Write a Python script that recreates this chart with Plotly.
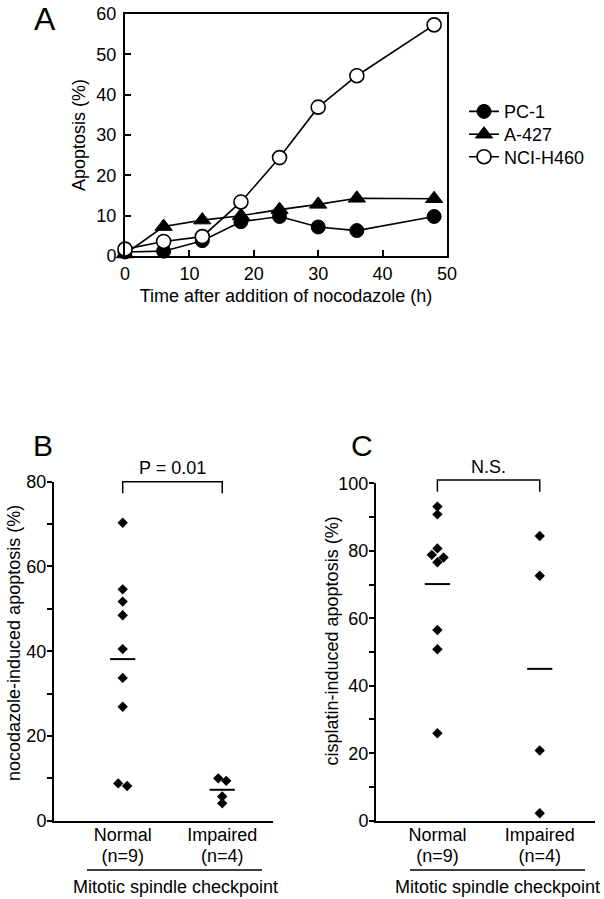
import numpy as np
import plotly.graph_objects as go

# ---------------- Panel A data ----------------
time_h = [0, 6, 12, 18, 24, 30, 36, 48]
pc1 = [1.0, 1.2, 3.8, 8.5, 9.8, 7.2, 6.3, 9.8]
a427 = [0.5, 7.3, 8.9, 10.0, 11.5, 12.8, 14.3, 14.2]
h460 = [1.7, 3.6, 4.8, 13.4, 24.4, 36.9, 44.7, 57.3]
series_names = ["PC-1", "A-427", "NCI-H460"]
a_xticks = [0, 10, 20, 30, 40, 50]
a_yticks = [0, 10, 20, 30, 40, 50, 60]

# ---------------- Panel B / C data ----------------
groups = ["Normal", "Impaired"]
group_n = ["(n=9)", "(n=4)"]
b_normal = [70.3, 54.6, 51.7, 48.5, 40.5, 33.7, 26.9, 8.8, 8.2]
b_impaired = [10.0, 9.4, 5.7, 4.1]
c_normal = [93.1, 90.8, 80.7, 78.8, 78.0, 76.6, 56.5, 50.8, 25.9]
c_impaired = [84.4, 72.6, 20.8, 2.2]
b_label = "P = 0.01"
c_label = "N.S."
group_title = "Mitotic spindle checkpoint"
b_ytitle = "nocodazole-induced apoptosis (%)"
c_ytitle = "cisplatin-induced apoptosis (%)"

# small horizontal offsets (in category units) to separate overlapping diamonds
b_normal_off = [0, 0, 0, 0, 0, 0, 0, -0.045, 0.045]
b_impaired_off = [-0.04, 0.04, 0, 0]
c_normal_off = [0, 0, 0, -0.055, 0.06, 0, 0, 0, 0]
c_impaired_off = [0, 0, 0, 0]

FONT = "Liberation Sans, Arial, Helvetica, sans-serif"
W, H = 604, 899

def px_x(p):
    return p / W

def px_y(p):
    return 1 - p / H

fig = go.Figure()

# Panel A traces (each in its own legend box so rows can be spaced like the original)
line_w = 1.6
a_styles = [
    dict(symbol="circle", size=14, color="black", line=dict(color="black", width=1)),
    dict(symbol="triangle-up", size=15, color="black", line=dict(color="black", width=1)),
    dict(symbol="circle", size=14, color="white", line=dict(color="black", width=1.6)),
]
legend_ids = ["legend", "legend2", "legend3"]
for name, ys, mk, lg in zip(series_names, [pc1, a427, h460], a_styles, legend_ids):
    fig.add_trace(go.Scatter(
        x=time_h, y=ys, name=name, mode="lines+markers",
        line=dict(color="black", width=line_w), marker=mk, legend=lg,
        xaxis="x", yaxis="y", cliponaxis=False))

def add_dots(vals, offs, cat, xa, ya):
    fig.add_trace(go.Scatter(
        x=[cat + o for o in offs], y=vals, mode="markers", showlegend=False,
        marker=dict(symbol="diamond", size=8, color="black"),
        xaxis=xa, yaxis=ya, cliponaxis=False))
    fig.add_trace(go.Scatter(
        x=[cat], y=[float(np.mean(vals))], mode="markers", showlegend=False,
        marker=dict(symbol="line-ew", size=18, line=dict(color="black", width=2)),
        xaxis=xa, yaxis=ya, cliponaxis=False))

add_dots(b_normal, b_normal_off, 1, "x2", "y2")
add_dots(b_impaired, b_impaired_off, 2, "x2", "y2")
add_dots(c_normal, c_normal_off, 1, "x3", "y3")
add_dots(c_impaired, c_impaired_off, 2, "x3", "y3")

axis_common = dict(showline=True, linecolor="black", linewidth=2, showgrid=False,
                   zeroline=False, tickcolor="black", automargin=False,
                   ticklabeloverflow="allow",
                   tickfont=dict(family=FONT, size=18, color="black"))
n_axis_common = dict(showline=False, showgrid=False, zeroline=False, ticks="",
                     automargin=False, side="bottom", tickvals=[1, 2], ticktext=group_n,
                     ticklabelstandoff=22, ticklabeloverflow="allow",
                     tickfont=dict(family=FONT, size=18, color="black"))

bx_dom = [px_x(54), px_x(273)]
cx_dom = [px_x(376), px_x(595)]
bx_rng = [0.31, 2.51]
cx_rng = [0.40, 2.54]

def legend_box(y_center):
    return dict(x=px_x(464), y=px_y(y_center), xanchor="left", yanchor="middle",
                font=dict(family=FONT, size=18, color="black"),
                bgcolor="rgba(0,0,0,0)", itemwidth=30)

fig.update_layout(
    width=W, height=H, margin=dict(l=0, r=0, t=0, b=0, autoexpand=False),
    paper_bgcolor="white", plot_bgcolor="white",
    font=dict(family=FONT, size=18, color="black"),
    showlegend=True,
    legend=legend_box(111.7),
    legend2=legend_box(134.5),
    legend3=legend_box(157),
    xaxis=dict(domain=[px_x(125), px_x(447)], range=[0, 50], tickvals=a_xticks,
               ticks="inside", ticklen=6, tickwidth=2, mirror=True, anchor="y",
               title=dict(text="Time after addition of nocodazole (h)",
                          font=dict(family=FONT, size=18), standoff=7),
               **axis_common),
    yaxis=dict(domain=[px_y(256), px_y(14)], range=[0, 60], tickvals=a_yticks,
               ticks="inside", ticklen=6, tickwidth=2, mirror=True, anchor="x",
               ticklabelstandoff=3,
               title=dict(text="Apoptosis (%)", font=dict(family=FONT, size=18), standoff=6),
               **axis_common),
    xaxis2=dict(domain=bx_dom, range=bx_rng, tickvals=[1, 2], ticklabelstandoff=-3,
                ticktext=groups, ticks="", anchor="y2", **axis_common),
    xaxis4=dict(domain=bx_dom, range=bx_rng, anchor="y2", overlaying="x2", **n_axis_common),
    yaxis2=dict(domain=[px_y(820.7), px_y(481.7)], range=[0, 80], dtick=20,
                ticks="outside", ticklen=5, tickwidth=1.5, anchor="x2",
                ticklabelstandoff=-3,
                minor=dict(dtick=10, ticks="outside", ticklen=5, tickwidth=1.5, tickcolor="black"),
                **axis_common),
    xaxis3=dict(domain=cx_dom, range=cx_rng, tickvals=[1, 2], ticklabelstandoff=-3,
                ticktext=groups, ticks="", anchor="y3", **axis_common),
    xaxis5=dict(domain=cx_dom, range=cx_rng, anchor="y3", overlaying="x3", **n_axis_common),
    yaxis3=dict(domain=[px_y(820.7), px_y(483.3)], range=[0, 100], dtick=20,
                ticks="outside", ticklen=5, tickwidth=1.5, anchor="x3",
                ticklabelstandoff=-3,
                minor=dict(dtick=10, ticks="outside", ticklen=5, tickwidth=1.5, tickcolor="black"),
                **axis_common),
)

# y-axis titles of panels B and C
for txt, xc, yc in [(b_ytitle, 14, 643), (c_ytitle, 331.5, 641)]:
    fig.add_annotation(x=px_x(xc), y=px_y(yc), xref="paper", yref="paper",
                       xanchor="center", yanchor="middle", textangle=-90,
                       text=txt, showarrow=False, font=dict(family=FONT, size=18))

# invisible traces to activate the "(n=...)" axes
for xa, ya in [("x4", "y2"), ("x5", "y3")]:
    fig.add_trace(go.Scatter(x=[1, 2], y=[None, None], mode="markers", showlegend=False,
                             hoverinfo="skip", xaxis=xa, yaxis=ya))

# significance brackets (x in data units, y in page pixels)
def bracket(xa, top_px, bot_px):
    fig.add_shape(type="path", xref=xa, yref="paper",
                  path=(f"M 1 {px_y(bot_px)} L 1 {px_y(top_px)} "
                        f"L 2 {px_y(top_px)} L 2 {px_y(bot_px)}"),
                  line=dict(color="black", width=1.5))

bracket("x2", 481.7, 493.3)
bracket("x3", 480.0, 491.7)
fig.add_annotation(x=1.5, xref="x2", y=px_y(468), yref="paper", text=b_label,
                   xanchor="center", yanchor="middle",
                   showarrow=False, font=dict(family=FONT, size=18))
fig.add_annotation(x=1.5, xref="x3", y=px_y(466.7), yref="paper", text=c_label,
                   xanchor="center", yanchor="middle",
                   showarrow=False, font=dict(family=FONT, size=18))

# group separator lines and titles
for x0, x1, xc in [(87, 262, 175), (410, 585, 497)]:
    fig.add_shape(type="line", xref="paper", yref="paper",
                  x0=px_x(x0), x1=px_x(x1), y0=px_y(870), y1=px_y(870),
                  line=dict(color="black", width=1.5))
    fig.add_annotation(x=px_x(xc), y=px_y(887), xref="paper", yref="paper",
                       xanchor="center", yanchor="middle",
                       text=group_title, showarrow=False,
                       font=dict(family=FONT, size=18))

# panel letters
for letter, xc, yc, sz in [("A", 45, 19, 32), ("B", 43, 445, 30), ("C", 362, 445, 30)]:
    fig.add_annotation(x=px_x(xc), y=px_y(yc), xref="paper", yref="paper",
                       xanchor="center", yanchor="middle",
                       text=letter, showarrow=False,
                       font=dict(family=FONT, size=sz))

# remove the browser's default page margin so the figure sits at the page origin
fig.write_html("out.html", config={"displayModeBar": False},
               post_script="document.body.style.margin='0px';")
